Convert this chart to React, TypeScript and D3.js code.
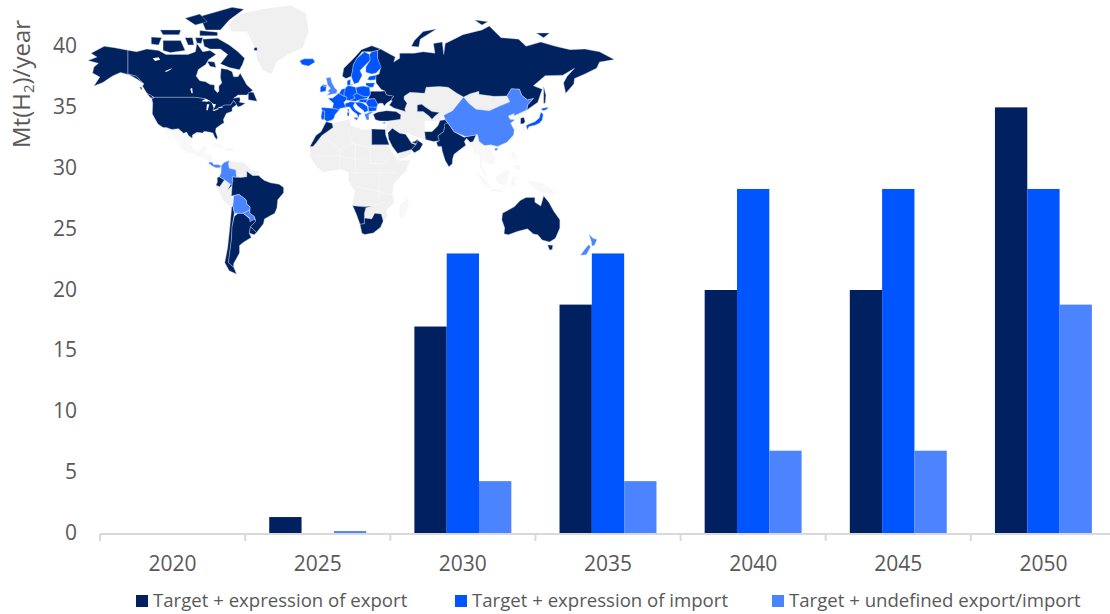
import React from "react";
import * as d3 from "d3";

const years = ["2020", "2025", "2030", "2035", "2040", "2045", "2050"];
const seriesNames = ["Target + expression of export", "Target + expression of import", "Target + undefined export/import"];
const exportValues = [0, 1.35, 17, 18.8, 20, 20, 35];
const importValues = [0, 0, 23, 23, 28.3, 28.3, 28.3];
const undefinedValues = [0, 0.2, 4.3, 4.3, 6.8, 6.8, 18.8];
const yTicks = [0, 5, 10, 15, 20, 25, 30, 35, 40];
const DARK = "#00205F", BLUE = "#0055FF", LIGHT = "#4C84FF", GRAY = "#F0F0F0", FAINT = "#F8F8F8";
const seriesColors = [DARK, BLUE, LIGHT];

type P = [number, number][];
const grayLand: P[] = [
  // Greenland
  [[-73,78],[-66,81],[-50,82.5],[-30,83.5],[-20,81.5],[-18,76],[-22,70.5],[-32,68],[-40,65],[-43,60],[-49,61.5],[-53,66],[-54,70],[-60,76],[-70,76]],
  // Venezuela, Guyanas
  [[-72,12],[-68,11],[-62,10.7],[-57,6],[-52,5],[-51.5,4],[-54,2.3],[-60,1.5],[-64,1],[-67,1.2],[-67.5,6],[-72,7],[-72.5,10]],
  // Peru
  [[-81,-4.5],[-78.5,-5],[-75.2,-0.5],[-70,-4.2],[-70.5,-11],[-69,-12.5],[-69.5,-17.3],[-71,-18],[-76,-14],[-79,-8]],
  // Africa
  [[-17,21],[-13,27.7],[-9.5,30],[-6,35.8],[-2,35],[10,37.2],[11,33.5],[20,31],[25,31.6],[25,22],[36.9,22],[38,18],[43,12],[51,12],[48,5],[40,-3],[39,-10],[40.5,-15],[35,-20],[35.5,-24],[32.8,-26.8],[30.5,-22.3],[27,-22],[25,-25.5],[20,-25],[20,-18],[11.8,-17.3],[13.5,-8],[9,-1],[9.5,4],[4,6.3],[-4,5.2],[-8,4.4],[-13,8.5],[-17,14.7]],
  // Middle East & Central Asia
  [[26,40],[36,36.2],[42,37],[44.8,39.7],[40,43.5],[47.5,43],[49,46],[47,48],[47,49.5],[51,51.5],[61,51],[62,54],[71,54.3],[77,54],[83,51],[87.5,49.2],[80,42],[74,39.5],[71,36],[61,36.5],[61,30],[61.6,25.2],[57,26.5],[52,28],[48.5,30],[47.5,29],[44,29],[39,32],[35,29.5],[34.5,31.5],[36,36.2]],
  [[87.5,49.2],[92,50.8],[98,52],[98,50.5],[108,49.5],[117,49.7],[119,46.7],[112,44.5],[105,42],[96,42.8],[91,46]],
  [[43,13],[45,12.8],[52,16.5],[52,19],[48,18],[44,17]],
];
const faintLand: P[] = [
  // Mexico + Central America
  [[-117,32.5],[-114.7,32.5],[-111,31.3],[-106.5,31.8],[-103,29],[-101,29.8],[-99.5,27.5],[-97.2,26],[-97.8,22.5],[-96,19],[-94,18.2],[-91,18.8],[-90.5,21],[-87,21.5],[-88,18],[-88.5,15.9],[-84,15.8],[-83.5,11],[-86,10],[-87.5,13],[-92,14.5],[-96,15.8],[-101,17.5],[-105.5,20],[-105.5,22.5],[-109,26],[-112.5,29.5],[-114.5,31],[-112,26.5],[-110,23],[-112,25],[-115,29]],
  [[-84.5,22],[-80,23],[-75,20.5],[-77.5,19.8],[-82,22]],
  [[-74,20],[-69,19.7],[-68.5,18.4],[-74,18]],
  // Madagascar
  [[49.5,-12.2],[50.3,-16],[47,-25],[44,-25],[43.5,-21],[44.5,-16.5]],
  // Southeast Asia
  [[92.5,21],[88,26.5],[97,28.3],[98,24],[101.7,21.5],[106,22.8],[108,21.5],[105.8,19],[109.3,13],[106.5,9],[105,10],[103,11],[100.8,13.3],[99.5,10],[103.5,1.5],[101,3],[98.5,8],[98.5,15],[97,17],[94.5,16],[94,19]],
  [[80,9.8],[81.8,7.5],[80.5,6],[79.8,8]],
  [[95.5,5.5],[104,-2],[106,-6],[103,-5],[98,1]],
  [[105.5,-6.2],[114.5,-7.5],[114,-8.7],[106,-7.5]],
  [[109,1.5],[115,5],[119,6.5],[118,1],[116,-4],[110,-3]],
  [[120,1],[125,1.3],[122,-1],[122.5,-5],[120,-5.5]],
  [[131,-0.8],[141,-2.7],[147,-6],[150.5,-10.5],[143,-9],[138,-8],[133,-4]],
  [[120.5,18.5],[122.2,17],[124,13],[121,13.5],[120,16]],
  [[122,9],[126,9.5],[126,6],[122,7]],
  [[124.2,42],[130.5,42.4],[127.5,39.5],[126,37.9],[124.8,38]],
];
const africaBorders: P[] = [
  [[-13,21],[-5,25],[3,19],[12,23],[24,20],[24,10],[34,10],[36,14]],
  [[-12,15],[3,15],[14,13],[24,13]],
  [[3,19],[3,6.5]],[[14,23],[14,4],[9,4]],
  [[9,33],[9,30],[12,23]],
  [[14,4],[30,4],[42,4]],
  [[13,-5],[30,-8],[40,-11]],[[30,4],[30,-14]],[[22,-18],[34,-15]],
];
const lakes: P[] = [
  [[-124,66.5],[-120,66.9],[-119,65.9],[-122.5,65.4]],
  [[-116,61.2],[-110.5,62.6],[-112,61.8],[-114.5,61]],
  [[-98.5,53.2],[-97.2,53.6],[-96.8,51],[-97.6,51]],
  [[-91,47],[-88,48.3],[-85,47.2],[-87,46.7]],
  [[-87.5,42.2],[-86.6,42.2],[-85.5,45.5],[-87.2,45.5]],
  [[-83.8,45.8],[-81,45.4],[-82,43.4],[-83,44.5]],
  [[-82.8,41.7],[-79.2,42.8],[-79.2,43],[-82.5,42.3]],
  [[-79.4,43.5],[-76.4,43.6],[-76.6,44],[-79.2,43.8]],
];
const darkLand: P[] = [
  // Canada
  [[-141,69.6],[-135,69],[-128,70],[-120,69.5],[-115,68],[-108,68],[-100,68],[-95,69],[-94,72],[-90,69],[-85,69.5],[-81,68],[-86,66],[-88,64],[-93,62],[-94.5,59],[-92,57],[-88,56.5],[-85,55.3],[-82,55],[-82,52.9],[-80,51.3],[-79,52],[-79,54.5],[-77,56],[-78,58.5],[-77.5,62.4],[-73,62],[-70,61],[-69,58.8],[-66,58.8],[-64.5,60.3],[-62,57.5],[-60,55],[-56,52.5],[-60,50.2],[-66,50.2],[-69,48.5],[-65,49],[-64.5,47.8],[-65,46.5],[-61,46],[-64,44.5],[-66,44],[-67,45.2],[-69,47.4],[-71,45],[-75,45],[-79,43.5],[-83,42],[-82.5,45],[-84.5,46.5],[-88,48.2],[-95,49],[-123,49],[-128,51],[-131,54.5],[-130,55.5],[-135,59],[-141,60]],
  // USA
  [[-123,49],[-95,49],[-88,48.2],[-84.5,46.5],[-82.5,45],[-83,42],[-79,43.5],[-75,45],[-71,45],[-69,47.4],[-67,45.2],[-70,43.5],[-70,41.7],[-74,40.5],[-76,37],[-75.5,35.3],[-78,34],[-81,32],[-81.3,30],[-80,26.8],[-80.5,25.2],[-82,27],[-83,29.2],[-85,29.7],[-89,30.2],[-90,29.2],[-94,29.6],[-97,28],[-97.2,26],[-99.5,27.5],[-101,29.8],[-103,29],[-106.5,31.8],[-111,31.3],[-114.7,32.5],[-117,32.5],[-120.5,34.5],[-122.5,37.5],[-124.3,40.3],[-124,46],[-124.7,48.4]],
  // Alaska
  [[-141,69.6],[-141,60],[-135,59],[-130,55.5],[-134,57.5],[-140,59.7],[-146,60.7],[-151,59.3],[-154,58],[-158,56.2],[-164,54.6],[-160,58.7],[-165,60.5],[-164,63],[-161,64.5],[-168,65.6],[-162,67],[-166,68.5],[-157,71],[-150,70.5]],
  // Arctic islands
  [[-90,73.5],[-80,73.8],[-72,71.5],[-66,69],[-61.5,66.5],[-63,64],[-65,61.8],[-72,62.8],[-78,64.3],[-75,66.5],[-73,68],[-78,70],[-85,70],[-89,71]],
  [[-117,73],[-105,73],[-102,69.5],[-112,68.7],[-117,69.5]],
  [[-125,74.2],[-118,74],[-120,71.5],[-125,71.8]],
  [[-92,80.5],[-70,83],[-62,82.5],[-72,79.5],[-78,76.5],[-88,76.5]],
  [[-92,76.3],[-80,75.8],[-80,74.6],[-92,74.6]],
  [[-119,76.5],[-105,76.5],[-106,75],[-117,75]],
  [[-102,80],[-92,81.2],[-87,79],[-95,78]],
  [[-102,74],[-97,74],[-96,71.5],[-100,71.5]],
  [[-95,74],[-90,74],[-91,72],[-94,72.2]],
  [[-59,51.5],[-55.5,51.5],[-53,47],[-59,47.8]],
  [[-128,50.8],[-125,50],[-123.5,48.5],[-125.5,48.8]],
  [[-133,54],[-131.5,54],[-131.5,52.5]],
  [[-87,65.3],[-82,65],[-81,62.8],[-85,63.3]],
  [[-55,70.5],[-53,70.5],[-53,69.5],[-55,69.5]],
  // Ecuador
  [[-80.2,0.8],[-78.8,1.4],[-75.2,-0.5],[-78.5,-5],[-81,-4],[-80,-2]],
  // Brazil
  [[-60,5],[-56,2.2],[-52,2.3],[-50,0.5],[-48,-1],[-44,-2.5],[-38,-3.5],[-35,-5.5],[-35,-9],[-39,-13.5],[-39.5,-18.5],[-41,-22],[-48,-25.5],[-48.7,-28.5],[-53.4,-33.7],[-57.5,-30.2],[-54,-27],[-54.5,-25],[-55,-24],[-58,-22],[-57.8,-18],[-60,-16.3],[-60.5,-13.5],[-65.3,-10],[-70.5,-11],[-70,-4.2],[-73,-7],[-69.5,-1],[-70,1.5],[-67,1.2],[-64,1],[-60,1.5]],
  // Chile
  [[-69.5,-17.3],[-68.5,-22],[-70,-30],[-70.5,-38],[-71.5,-44],[-72.5,-50],[-69,-52.2],[-67,-55.5],[-72,-54],[-75,-50],[-73,-42],[-71.5,-30],[-70.3,-18.3]],
  // Argentina
  [[-66,-22],[-62.5,-22],[-58,-25.5],[-54.5,-25.8],[-54,-27],[-57.5,-30.2],[-58.4,-34],[-57,-36.5],[-62,-39],[-65,-41],[-65,-45],[-69,-50.5],[-69,-52.2],[-72.5,-50],[-71.5,-44],[-70.5,-38],[-70,-30],[-68.5,-24]],
  // Uruguay
  [[-57.5,-30.2],[-53.4,-33.7],[-55,-34.9],[-58.3,-34]],
  // Norway
  [[5,59],[7.5,58],[11,59],[12,61.5],[12.5,64],[15,66.5],[18.5,69],[25,69],[29,69.5],[31,70],[25,71.2],[18,69.8],[12,66],[6,62.5]],
  // Ukraine
  [[24,50.5],[24,52],[31.5,52],[34,52.2],[35,50.3],[40,49.6],[38,47.5],[35,46],[33.5,44.5],[32.5,46],[30.5,46],[29,45.5],[27,48.3],[22.5,48.2]],
  // Turkey
  [[26,40],[29,41.2],[35,42],[41.5,41.5],[44.8,39.7],[44.5,37.2],[36,36.2],[30.5,36.3],[27.5,37]],
  // Morocco + W. Sahara
  [[-17,21],[-13,27.7],[-9.5,30],[-6,35.8],[-2,35],[-1.3,32.5],[-9,27.7],[-13,23],[-15,21]],
  // Egypt
  [[25,31.6],[34.2,31.3],[34.5,28],[36.9,22],[25,22]],
  // Saudi Arabia
  [[36,29.3],[39,32],[44,29],[48,28.5],[50.2,25.5],[52,23],[55,22],[52,19],[48,18],[44,17],[42.6,16.5],[39,21],[36.5,25.5]],
  // Oman
  [[56.2,25],[59.8,22.5],[57.8,19],[54,17],[52,19],[55,22]],
  // UAE
  [[52,23.5],[54.5,24.2],[56.2,25.5],[55.5,22.5]],
  // Namibia
  [[12,-17.3],[20,-18],[25,-17.7],[21,-18.5],[20,-22],[20,-28.5],[17,-28.8],[14.5,-22.5]],
  // South Africa
  [[17,-28.8],[20,-28.5],[20,-25],[25,-25.5],[27,-22],[31.5,-22.5],[32.8,-26.8],[31,-30.5],[26,-34],[20,-34.8],[18.3,-34]],
  // Uzbekistan
  [[56,45],[59,45.5],[61,44.2],[66,41.5],[71,41],[68,39],[66,37.3],[64,39],[60,41.5],[56,41.5]],
  // Pakistan
  [[61,30],[66,30],[70,33.5],[71.5,36.5],[75,37],[77,35],[74.5,32.5],[74,30],[70,27.5],[71,24.5],[67,24],[61.6,25.2]],
  // India
  [[74.5,34.5],[77,35],[79,32.5],[81,30],[88,26.5],[89,27],[96,28],[94,24],[92,23.5],[89.5,26],[88,24],[89,21.7],[86.5,20],[81,16],[80,13],[79.8,10],[77.5,8],[75,12],[73,18],[72.5,21],[70,21],[69,23.5],[71,24.5],[70,27.5],[74,30],[74.5,32.5]],
  // South Korea
  [[126.3,37.8],[128.5,38.4],[129.3,36],[128.5,34.8],[126.3,34.5]],
  // Russia
  [[31,70],[41,67],[40,65],[44,66.5],[44,68.5],[54,68.5],[60,69],[68,68.5],[67,72],[73,72.5],[74,68],[75,72],[81,73.5],[87,75],[100,76.5],[105,77.7],[113,74],[125,73.5],[130,71],[140,72.5],[150,71],[160,69.8],[170,70],[180,69],[190,66],[180,65],[178,62.5],[170,60],[163,58],[162.5,55.5],[157,51],[155.5,56],[158,59],[163,62.5],[155,59.5],[143,59.3],[135,54.7],[141,53],[138,46.5],[132,43.2],[130.7,42.4],[131,45],[135,48.4],[131,47.7],[127,50],[125.5,53],[120,53.2],[117,49.7],[108,49.5],[98,50.5],[98,52],[92,50.8],[87.5,49.2],[83,51],[77,54],[71,54.3],[62,54],[61,51],[51,51.5],[47,49.5],[47,48],[49,46],[47.5,43],[48,41.5],[40,43.5],[37,45],[39,47.2],[38,47.5],[40,49.6],[35,50.3],[34,52.2],[31.5,52.9],[28,56],[27.7,59.5],[30,60],[31,62.5],[29,66.5],[29,69.5]],
  [[142,54.3],[143.5,50],[143,46],[142,46],[142,51]],
  [[52,71],[57,70.8],[58,73.5],[69,76.8],[60,76],[54,73]],
  [[95,79.5],[104,79],[100,78]],
  [[137,75.5],[146,75.5],[142,74]],
  // Australia
  [[114,-22],[122,-18],[126,-14],[130,-12],[136,-12],[136,-15],[140,-17.5],[142,-11],[145.5,-15],[149,-21],[153,-26],[153,-31],[150,-37],[146,-39],[141,-38],[138,-35],[135,-34.5],[131,-31.5],[124,-33],[118,-35],[115,-34.3],[115.5,-31],[113.5,-26]],
  [[144.7,-40.7],[148.2,-40.8],[147.8,-43.2],[146,-43.5]],
];
const blueLand: P[] = [
  // Iceland
  [[-24,65.5],[-21,66.3],[-15,66.3],[-13.6,65],[-18,63.4],[-22.5,64]],
  // Ireland
  [[-10,54],[-8,55.3],[-6,54.5],[-6.2,52.2],[-10,51.6]],
  // Sweden
  [[11,59],[13,55.5],[16,56.2],[18.5,59.5],[17,61.5],[21,64],[24,65.8],[23.5,68],[20,69],[15,66.5],[12.5,64],[12,61.5]],
  // Finland
  [[21,60.8],[25,60],[28,60.5],[31.5,62.8],[29,66.5],[29,69.5],[25,69],[23.5,68],[24,65.8],[21,63]],
  // Baltics
  [[23.5,59],[28,59.5],[27.5,57.5],[24,57.2],[22,57.6]],
  [[21,56],[27,56],[26,54],[23.5,54],[21,55]],
  // Denmark
  [[8.2,55],[8.3,57],[10.5,57.7],[10.5,55],[12.5,55.5],[11.5,54.9]],
  // Germany
  [[6,51.5],[7,53.6],[9,54.8],[14,54],[15,51],[12.5,50],[13.7,48.6],[10,47.4],[7.6,47.7],[8.2,49],[6.3,49.5]],
  // Poland
  [[14.2,53.9],[19,54.5],[23.5,54],[24,50.5],[22.5,49.2],[19,49.5],[15,51]],
  // France
  [[-4.7,48.5],[-1.5,48.7],[2.5,51],[6.3,49.5],[8.2,49],[7.6,47.7],[6,46.3],[7.5,43.8],[3.3,43.2],[3,42.5],[-1.7,43.3],[-1,46]],
  [[8.6,43],[9.5,42.8],[9.3,41.4],[8.7,41.6]],
  // Benelux
  [[3.3,51.4],[4.5,53],[7,53.4],[6,51],[6.3,49.5],[2.5,51]],
  // Spain
  [[-9.2,43.7],[-1.7,43.3],[3,42.5],[0,39.8],[-0.6,38],[-2,36.8],[-5.5,36],[-7.3,37.2],[-7,41.8],[-8.8,42]],
  // Portugal
  [[-8.8,42],[-7,41.8],[-7.3,37.2],[-9,37],[-9.5,38.8]],
  // Italy
  [[7,44],[7,45.8],[10.5,46.8],[13.7,46.5],[12.3,44.5],[14,42.4],[18.4,40.2],[16.5,39.7],[16,38],[15,40],[12,41.8],[10,44]],
  [[12.5,38.1],[15.6,38.2],[15,36.7]],
  [[8.2,41],[9.7,41],[9.5,39],[8.5,39]],
  // Austria, Czechia, Slovakia, Hungary
  [[9.6,47.4],[13.7,47],[17,47.8],[22,48.5],[22.5,49.2],[19,49.5],[15,51],[12.5,50],[13.7,48.6]],
  [[16,46.7],[21,46.2],[22.5,48],[17,48]],
  // Romania
  [[21,46.2],[22.8,48],[27,48.3],[29,45.5],[28.5,43.8],[23,43.8],[22.3,44.6]],
  // Balkans
  [[13.7,46.5],[16.5,46.5],[19,46],[22,44.3],[22.5,42],[20,41],[19.5,42],[15,44.8]],
  // Bulgaria
  [[22.5,44],[28.5,43.8],[28,42],[23,41.4]],
  // Cyprus
  [[32.4,35.2],[34.5,35.6],[33.5,34.7]],
  // Japan
  [[130,33.5],[132,34.5],[136,35.8],[139,38],[140,41.2],[141.7,40],[141,36.8],[139,34.9],[136,33.8],[132,33],[131,31.2]],
  [[140.3,43.2],[145.3,43.8],[144,42.6],[141.5,42]],
];
const lightLand: P[] = [
  // UK
  [[-6,58.3],[-3,58.6],[-2,56],[0,53.5],[1.5,52.5],[1,51],[-5.5,50],[-3.5,51.6],[-5,52],[-3,53.5],[-5,55]],
  [[-8,55],[-6,55.2],[-5.5,54.3],[-8,54.2]],
  // Greece
  [[20,40],[24,41.3],[26,41.3],[23,39.8],[23.2,37],[21.5,36.8]],
  // China
  [[74,39.5],[80,42],[87.5,49.2],[91,46],[96,42.8],[105,42],[112,44.5],[119,46.7],[117,49.7],[120,53.2],[125.5,53],[127,50],[131,47.7],[135,48.4],[131,45],[130.5,42.4],[124.2,40],[121.5,39],[122,40.5],[118,39],[119,37.3],[122.5,37],[119.5,35],[122,31],[121.5,28],[117,23.5],[110.5,21],[106,22],[101.7,21.5],[98,24],[97,28.3],[89,27],[81,30],[79,32.5],[77,35],[75,37]],
  [[109,20],[111,19.8],[109.8,18.2],[108.7,18.6]],
  // Costa Rica + Panama
  [[-85.8,11],[-83.6,10.9],[-82.5,9.3],[-79.8,9.5],[-77.4,8.6],[-78.5,7.3],[-81,7.3],[-83,8.2],[-85.7,9.9]],
  // Colombia
  [[-77.4,8.6],[-75.5,10.7],[-72,12],[-72.5,10],[-72,7],[-67.5,6],[-67,1.2],[-70,1.5],[-69.5,-1],[-70,-4.2],[-75.2,-0.5],[-78.8,1.4],[-77.5,4]],
  // Bolivia
  [[-69,-10.9],[-65.3,-10],[-60.5,-13.5],[-60,-16.3],[-57.8,-18],[-58,-20],[-62.5,-22],[-66,-22],[-68.5,-22],[-69.5,-17.3],[-69,-12.5]],
  // Paraguay
  [[-62.5,-22],[-58,-20],[-58,-22],[-55,-24],[-54.5,-25.8],[-58,-27.2],[-58,-25]],
  // New Zealand
  [[172.8,-34.5],[175.5,-37],[178.3,-37.7],[176.5,-41],[174.8,-41.3],[174.5,-39]],
  [[172.5,-40.6],[174,-41.7],[171,-46],[167,-46.2],[170,-43]],
];

const millerRaw = (l: number, p: number): [number, number] => [l, 1.25 * Math.log(Math.tan(Math.PI / 4 + 0.4 * p))];
const mapX = d3.scaleLinear().domain([0, Math.PI]).range([335, 335 + 84.2 * Math.PI]);
const mapY = d3.scaleLinear().domain([0, 1]).range([179, 179 - 87.7]);
const toPts = (poly: P) => poly.map(([lo, la]) => {
  const [mx, my] = millerRaw((lo * Math.PI) / 180, (la * Math.PI) / 180);
  return [mapX(mx), mapY(my)] as [number, number];
});
const toPath = (poly: P) => d3.line().curve(d3.curveLinearClosed)(toPts(poly)) as string;
const toLine = (poly: P) => d3.line()(toPts(poly)) as string;

const W = 1110, H = 614;
const x0 = d3.scaleBand<string>().domain(years).range([100, 1116]).paddingInner(0.332).paddingOuter(0.166);
const x1 = d3.scaleBand<number>().domain([0, 1, 2]).range([0, x0.bandwidth()]);
const y = d3.scaleLinear().domain([0, 40]).range([533.5, 46.5]);
const seriesValues = [exportValues, importValues, undefinedValues];
const edges = d3.range(years.length + 1).map((i) => 100 + i * x0.step());
const legendX = [136, 455, 772];
const FONT = "'Open Sans', sans-serif";
const TXT = "#595959";

export default function App() {
  return (
    <svg width={W} height={H} viewBox={`0 0 ${W} ${H}`} style={{ position: "absolute", left: 0, top: 0, background: "#fff" }} fontFamily={FONT}>
      <defs>
        <filter id="soft" x="-5%" y="-5%" width="110%" height="110%"><feGaussianBlur stdDeviation="0.35" /></filter>
      </defs>
      <g filter="url(#soft)" strokeLinejoin="round">
        {faintLand.map((p, i) => <path key={"f" + i} d={toPath(p)} fill={FAINT} />)}
        {grayLand.map((p, i) => <path key={"g" + i} d={toPath(p)} fill={GRAY} />)}
        {africaBorders.map((p, i) => <path key={"a" + i} d={toLine(p)} fill="none" stroke="#FAFAFA" strokeWidth={0.6} />)}
        {darkLand.map((p, i) => <path key={"d" + i} d={toPath(p)} fill={DARK} stroke="#C9D3EA" strokeWidth={0.4} />)}
        {blueLand.map((p, i) => <path key={"b" + i} d={toPath(p)} fill={BLUE} stroke="#C9D8FF" strokeWidth={0.4} />)}
        {lightLand.map((p, i) => <path key={"l" + i} d={toPath(p)} fill={LIGHT} stroke="#D5E2FF" strokeWidth={0.4} />)}
        {lakes.map((p, i) => <path key={"w" + i} d={toPath(p)} fill="#fff" />)}
      </g>
      {years.map((yr, i) => (
        <g key={yr}>
          {seriesValues.map((vals, s) => vals[i] > 0 && (
            <rect key={s} x={(x0(yr) as number) + (x1(s) as number)} width={x1.bandwidth()} y={y(vals[i])} height={y(0) - y(vals[i])} fill={seriesColors[s]} />
          ))}
          <text x={(x0(yr) as number) + x0.bandwidth() / 2} y={571} textAnchor="middle" fontSize={21} fill={TXT}>{yr}</text>
        </g>
      ))}
      <line x1={100} x2={W} y1={534} y2={534} stroke="#D9D9D9" strokeWidth={2} />
      {edges.map((e) => <line key={e} x1={e} x2={e} y1={534} y2={541} stroke="#D9D9D9" strokeWidth={2} />)}
      {yTicks.map((t) => <text key={t} x={77} y={y(t) + 6.5} textAnchor="end" fontSize={21} fill={TXT}>{t}</text>)}
      <text transform="translate(30,148) rotate(-90)" fontSize={24} fill={TXT}>Mt(H<tspan fontSize={15} dy={4}>2</tspan><tspan dy={-4}>)/year</tspan></text>
      {seriesNames.map((n, i) => (
        <g key={n}>
          <rect x={legendX[i]} y={595} width={12} height={12} fill={seriesColors[i]} />
          <text x={legendX[i] + 17} y={607} fontSize={18.6} fill={TXT}>{n}</text>
        </g>
      ))}
    </svg>
  );
}
